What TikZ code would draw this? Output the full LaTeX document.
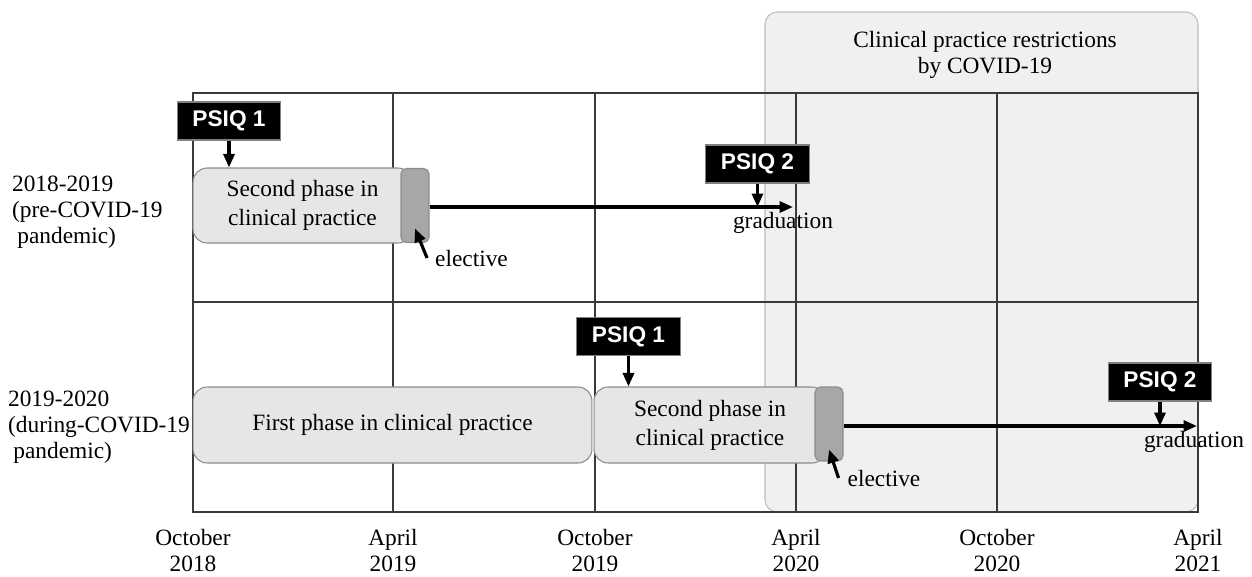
\documentclass[tikz,border=0pt]{standalone}
\usepackage{fontspec}
\setmainfont{Liberation Serif}
\newfontfamily\psiqfont{Liberation Sans}
\usetikzlibrary{arrows.meta}

\definecolor{covidfill}{HTML}{F0F0F0}
\definecolor{covidline}{HTML}{BDBDBD}
\definecolor{phasefill}{HTML}{E6E6E6}
\definecolor{phaseline}{HTML}{8C8C8C}
\definecolor{electfill}{HTML}{A9A6A6}
\definecolor{gridcol}{HTML}{3A3A3A}

\tikzset{
	x=0.02cm, y=-0.02cm,
	txt/.style={font=\fontsize{13.3}{14.8}\selectfont, inner sep=1pt},
	gridline/.style={draw=gridcol, line width=0.6pt},
	phasebox/.style={draw=phaseline, fill=phasefill, line width=0.6pt, rounded corners=8pt, align=center, inner sep=0pt, font=\fontsize{13.3}{16.5}\selectfont},
	electbox/.style={draw=phaseline, fill=electfill, line width=0.6pt, rounded corners=3pt, minimum width=0.56cm, inner sep=0pt},
	psiqbox/.style={draw=gray, fill=black, text=white, line width=0.6pt, minimum width=2.07cm, minimum height=0.76cm, inner sep=0pt, font=\psiqfont\bfseries\fontsize{12.9}{14}\selectfont},
	arr/.style={-{Triangle[length=0.27cm, width=0.22cm]}, line width=1.8pt},
}

\begin{document}
\begin{tikzpicture}
		%%%%% START %%%%%
		\useasboundingbox (0,0) rectangle (1252,576);
		
		\draw[draw=covidline, fill=covidfill, line width=0.6pt, rounded corners=7pt] (765,12) rectangle (1198,512);
		\node[txt, align=center, font=\fontsize{13.3}{14.8}\selectfont] (covid) at (985,55) {Clinical practice restrictions\\by COVID-19};
		
		\draw[gridline] (193,93) rectangle (1198,512);
		\draw[gridline] (193,302) -- (1198,302);
		\foreach \x in {393,595,796,997}
			\draw[gridline] (\x,93) -- (\x,512);
		
		\node[txt, align=center] (oct18) at (193,550) {October\\2018};
		\node[txt, align=center] (apr19) at (393,550) {April\\2019};
		\node[txt, align=center] (oct19) at (595,550) {October\\2019};
		\node[txt, align=center] (apr20) at (796,550) {April\\2020};
		\node[txt, align=center] (oct20) at (997,550) {October\\2020};
		\node[txt, align=center] (apr21) at (1198,550) {April\\2021};
		
		\node[txt, anchor=west, align=left] (rowA) at (10,212) {2018-2019\\(pre-COVID-19\\\hspace{3pt}pandemic)};
		\node[txt, anchor=west, align=left] (rowB) at (6,427) {2019-2020\\(during-COVID-19\\\hspace{3pt}pandemic)};
		
		% 2018-2019
		\node[phasebox, minimum width=4.38cm, minimum height=1.5cm] (phaseA) at (302.5,205.5) {Second phase in\\clinical practice};
		\node[electbox, minimum height=1.48cm] (elecA) at (415,205.5) {};
		\node[psiqbox] (psiqA1) at (229,121) {PSIQ 1};
		\node[psiqbox] (psiqA2) at (757.5,164) {PSIQ 2};
		\coordinate (gradA) at (793,207);
		\node[txt] (gradLabA) at (783,223) {graduation};
		\node[txt] (elecLabA) at (471.5,258) {elective};
		
		\draw[arr] (psiqA1.south) -- (psiqA1 |- phaseA.north);
		\draw[arr] (elecA.east |- gradA) -- (gradA);
		\draw[arr] (psiqA2.south) -- (psiqA2 |- gradA);
		\draw[arr] ([xshift=-0.12cm]elecLabA.west) -- ([yshift=0.29cm]elecA.south);
		
		% 2019-2020
		\node[phasebox, minimum width=7.98cm, minimum height=1.52cm] (phaseB1) at (392.5,425) {First phase in clinical practice};
		\node[phasebox, minimum width=4.64cm, minimum height=1.52cm] (phaseB2) at (710,425) {Second phase in\\clinical practice};
		\node[electbox, minimum height=1.48cm] (elecB) at (829,424) {};
		\node[psiqbox] (psiqB1) at (628.5,336.5) {PSIQ 1};
		\node[psiqbox] (psiqB2) at (1160,382) {PSIQ 2};
		\coordinate (gradB) at (1197,426);
		\node[txt] (gradLabB) at (1194,442) {graduation};
		\node[txt] (elecLabB) at (884,478) {elective};
		
		\draw[arr] (psiqB1.south) -- (psiqB1 |- phaseB2.north);
		\draw[arr] (elecB.east |- gradB) -- (gradB);
		\draw[arr] (psiqB2.south) -- (psiqB2 |- gradB);
		\draw[arr] ([xshift=-0.14cm]elecLabB.west) -- ([yshift=0.24cm]elecB.south);
		
		%%%%% END %%%%%
	\end{tikzpicture}
\end{document}
